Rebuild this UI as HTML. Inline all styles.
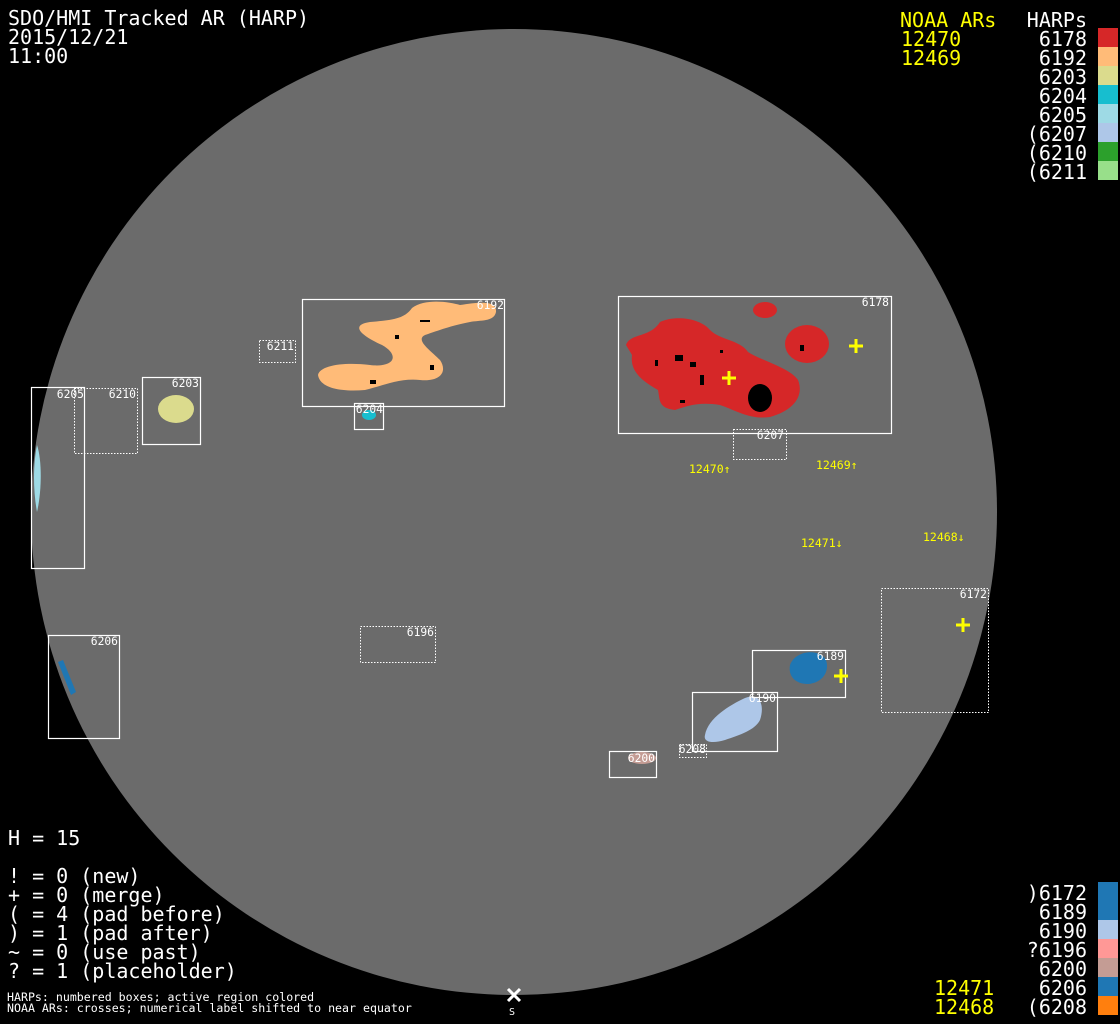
<!DOCTYPE html>
<html><head><meta charset="utf-8"><style>
html,body{margin:0;padding:0;background:#000;width:1120px;height:1024px;overflow:hidden}
svg{display:block}
text{font-family:"DejaVu Sans Mono","Liberation Mono",monospace}
</style></head><body>
<svg width="1120" height="1024" viewBox="0 0 1120 1024" xmlns="http://www.w3.org/2000/svg">
<rect width="1120" height="1024" fill="#000"/>
<circle cx="514" cy="512" r="483" fill="#6b6b6b"/>
<!-- blobs -->
<path d="M318,375 C320,365 345,362 370,365 C395,368 400,355 382,345 C360,335 350,325 370,322 C395,320 405,318 412,308 C425,298 450,302 460,305 C480,302 497,300 496,312 C494,322 480,320 470,322 C450,326 440,330 425,335 C415,340 430,350 440,360 C448,372 440,382 420,380 C400,378 385,385 365,390 C340,392 320,388 318,375Z" fill="#ffbb78"/>
<path d="M626,345 C630,333 650,338 660,322 C675,315 700,318 710,330 C720,340 740,340 748,352 C760,360 790,368 798,380 C804,395 795,410 770,417 C750,420 735,410 720,405 C700,402 690,405 675,410 C658,408 660,400 658,390 C640,380 630,370 632,355Z" fill="#d62728"/>
<ellipse cx="807" cy="344" rx="22" ry="19" fill="#d62728"/>
<ellipse cx="765" cy="310" rx="12" ry="8" fill="#d62728"/>
<ellipse cx="760" cy="398" rx="12" ry="14" fill="#000"/>
<g fill="#000">
<rect x="675" y="355" width="8" height="6"/><rect x="690" y="362" width="6" height="5"/><rect x="700" y="375" width="4" height="10"/><rect x="655" y="360" width="3" height="6"/><rect x="680" y="400" width="5" height="3"/><rect x="395" y="335" width="4" height="4"/><rect x="370" y="380" width="6" height="4"/><rect x="420" y="320" width="10" height="2"/><rect x="430" y="365" width="4" height="5"/><rect x="720" y="350" width="3" height="3"/><rect x="800" y="345" width="4" height="6"/>
</g>
<ellipse cx="176" cy="409" rx="18" ry="14" fill="#dbdb8d"/>
<ellipse cx="369" cy="415" rx="7" ry="5" fill="#17becf"/>
<path d="M37,445 C42,460 42,490 37,512 C33,490 33,465 37,445Z" fill="#9edae5"/>
<path d="M58,662 L63,660 L76,692 L71,695Z" fill="#1f77b4"/>
<path d="M790,665 C795,650 820,648 826,660 C830,672 822,683 808,684 C795,684 788,676 790,665Z" fill="#1f77b4"/>
<path d="M705,735 C708,718 730,705 745,698 C760,692 765,705 760,720 C755,730 740,735 725,740 C712,744 703,742 705,735Z" fill="#aec7e8"/>
<ellipse cx="642" cy="758" rx="14" ry="6" fill="#c49c94"/>
<!-- boxes -->
<g fill="none" stroke="#fff" stroke-width="1.2">
<rect x="618.5" y="296.5" width="273" height="137"/>
<rect x="302.5" y="299.5" width="202" height="107"/>
<rect x="354.5" y="403.5" width="29" height="26"/>
<rect x="142.5" y="377.5" width="58" height="67"/>
<rect x="31.5" y="387.5" width="53" height="181"/>
<rect x="48.5" y="635.5" width="71" height="103"/>
<rect x="752.5" y="650.5" width="93" height="47"/>
<rect x="692.5" y="692.5" width="85" height="59"/>
<rect x="609.5" y="751.5" width="47" height="26"/>
</g>
<g fill="none" stroke="#fff" stroke-width="1" stroke-dasharray="1.5,1.5">
<rect x="733.5" y="429.5" width="53" height="30"/>
<rect x="259.5" y="340.5" width="36" height="22"/>
<rect x="74.5" y="388.5" width="63" height="65"/>
<rect x="360.5" y="626.5" width="75" height="36"/>
<rect x="881.5" y="588.5" width="107" height="124"/>
<rect x="679.5" y="744.5" width="27" height="13"/>
</g>
<g fill="#fff" font-size="11.3" text-anchor="end">
<text x="889" y="306">6178</text><text x="784" y="439">6207</text><text x="504" y="309">6192</text>
<text x="294" y="350">6211</text><text x="383" y="413">6204</text><text x="199" y="387">6203</text>
<text x="136" y="398">6210</text><text x="84" y="398">6205</text><text x="118" y="645">6206</text>
<text x="434" y="636">6196</text><text x="987" y="598">6172</text><text x="844" y="660">6189</text>
<text x="776" y="702">6190</text><text x="706" y="753">6208</text><text x="655" y="762">6200</text>
</g>
<g stroke="#ffff00" stroke-width="3">
<path d="M722,378h14M729,371v14"/><path d="M849,346h14M856,339v14"/><path d="M956,625h14M963,618v14"/><path d="M834,676h14M841,669v14"/>
</g>
<g fill="#ffff00" font-size="11.5">
<text x="689" y="473">12470↑</text><text x="816" y="469">12469↑</text><text x="801" y="547">12471↓</text><text x="923" y="541">12468↓</text>
</g>
<path d="M508,989l12,12M520,989l-12,12" stroke="#fff" stroke-width="3"/>
<text x="509" y="1015" fill="#fff" font-size="10">S</text>
<!-- header text -->
<g fill="#fff" font-size="20">
<text x="8" y="25">SDO/HMI Tracked AR (HARP)</text>
<text x="8" y="44">2015/12/21</text>
<text x="8" y="63">11:00</text>
<text x="8" y="845">H = 15</text>
<text x="8" y="883">! = 0 (new)</text>
<text x="8" y="902">+ = 0 (merge)</text>
<text x="8" y="921">( = 4 (pad before)</text>
<text x="8" y="940">) = 1 (pad after)</text>
<text x="8" y="959">~ = 0 (use past)</text>
<text x="8" y="978">? = 1 (placeholder)</text>
</g>
<g fill="#fff" font-size="11.6">
<text x="7" y="1001">HARPs: numbered boxes; active region colored</text>
<text x="7" y="1012">NOAA ARs: crosses; numerical label shifted to near equator</text>
</g>
<g fill="#ffff00" font-size="20">
<text x="900" y="27">NOAA ARs</text><text x="901" y="46">12470</text><text x="901" y="65">12469</text>
<text x="934" y="995">12471</text><text x="934" y="1014">12468</text>
</g>
<g fill="#fff" font-size="20" text-anchor="end">
<text x="1087" y="27">HARPs</text>
<text x="1087" y="46">6178</text><text x="1087" y="65">6192</text><text x="1087" y="84">6203</text><text x="1087" y="103">6204</text>
<text x="1087" y="122">6205</text><text x="1087" y="141">(6207</text><text x="1087" y="160">(6210</text><text x="1087" y="179">(6211</text>
<text x="1087" y="900">)6172</text><text x="1087" y="919">6189</text><text x="1087" y="938">6190</text><text x="1087" y="957">?6196</text>
<text x="1087" y="976">6200</text><text x="1087" y="995">6206</text><text x="1087" y="1014">(6208</text>
</g>
<rect x="1098" y="28" width="20" height="19" fill="#d62728"/>
<rect x="1098" y="47" width="20" height="19" fill="#ffbb78"/>
<rect x="1098" y="66" width="20" height="19" fill="#dbdb8d"/>
<rect x="1098" y="85" width="20" height="19" fill="#17becf"/>
<rect x="1098" y="104" width="20" height="19" fill="#9edae5"/>
<rect x="1098" y="123" width="20" height="19" fill="#aec7e8"/>
<rect x="1098" y="142" width="20" height="19" fill="#2ca02c"/>
<rect x="1098" y="161" width="20" height="19" fill="#98df8a"/>
<rect x="1098" y="882" width="20" height="19" fill="#1f77b4"/>
<rect x="1098" y="901" width="20" height="19" fill="#1f77b4"/>
<rect x="1098" y="920" width="20" height="19" fill="#aec7e8"/>
<rect x="1098" y="939" width="20" height="19" fill="#ff9896"/>
<rect x="1098" y="958" width="20" height="19" fill="#c49c94"/>
<rect x="1098" y="977" width="20" height="19" fill="#1f77b4"/>
<rect x="1098" y="996" width="20" height="19" fill="#ff7f0e"/>
</svg>
</body></html>
